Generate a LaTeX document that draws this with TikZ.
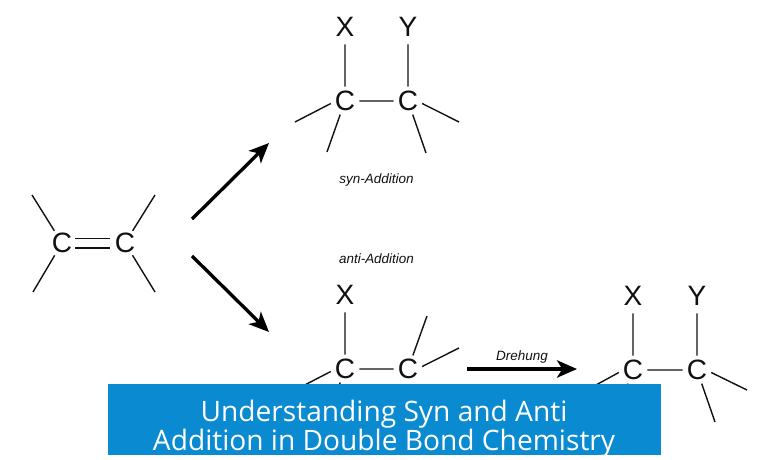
\documentclass[tikz,border=0pt]{standalone}
\usepackage{fontspec}
\setmainfont{Liberation Sans}
\newfontfamily\bannerfont{Open Sans}
\usetikzlibrary{arrows.meta}
\definecolor{bannerblue}{HTML}{0A8AD0}
\definecolor{inkc}{HTML}{111111}
\tikzset{
  x=0.75pt,y=-0.75pt,
  atomnode/.style={circle,inner sep=0pt,minimum size=28*0.75pt,text=inkc,font=\fontsize{21}{22}\selectfont},
  subnode/.style={atomnode,minimum size=34*0.75pt},
  bond/.style={draw=inkc,line width=1.05pt},
  rxnarrow/.style={draw=black,line width=2.5pt,-{Stealth[length=15pt,width=13pt,inset=4pt]}},
  tag/.style={inner sep=0pt,text=inkc,font=\fontsize{10.1}{11}\selectfont\itshape},
  banner/.style={fill=bannerblue,draw=none,inner sep=0pt,minimum width=553*0.75pt,minimum height=71*0.75pt},
  bannertext/.style={inner sep=0pt,text=white,align=center,font=\bannerfont\fontsize{21.1}{21.9}\selectfont},
}
\begin{document}
\begin{tikzpicture}
\useasboundingbox (0,0) rectangle (768,460);
\fill[white] (0,0) rectangle (768,460);

% alkene
\node[atomnode] (a1) at (62,243) {C};
\node[atomnode] (a2) at (125,243) {C};
\coordinate (a1u) at (32,195);
\coordinate (a1d) at (33,292);
\coordinate (a2u) at (155,195);
\coordinate (a2d) at (155,292);
\draw[bond] (a1)--(a1u) (a1)--(a1d) (a2)--(a2u) (a2)--(a2d);
\draw[bond] ([xshift=9.75pt,yshift=3.6pt]a1.center) -- ([xshift=-11.25pt,yshift=3.6pt]a2.center);
\draw[bond] ([xshift=9.75pt,yshift=-3.6pt]a1.center) -- ([xshift=-11.25pt,yshift=-3.6pt]a2.center);

% syn product
\node[atomnode] (s1) at (345,101) {C};
\node[atomnode] (s2) at (408,101) {C};
\node[subnode] (sx) at (345,27) {X};
\node[subnode] (sy) at (408,27) {Y};
\coordinate (s1l) at (295,122);
\coordinate (s1d) at (327,152);
\coordinate (s2r) at (459,122);
\coordinate (s2d) at (426,153);
\draw[bond] (s1)--(sx) (s2)--(sy) (s1)--(s2) (s1.190)--(s1l) (s1)--(s1d) (s2.-10)--(s2r) (s2)--(s2d);

% anti product
\node[atomnode] (t1) at (345,369) {C};
\node[atomnode] (t2) at (408,369) {C};
\node[subnode] (tx) at (345,295) {X};
\coordinate (t1l) at (295,390);
\coordinate (t1d) at (327,420);
\coordinate (t2u) at (427,316);
\coordinate (t2r) at (459,348);
\draw[bond] (t1)--(tx) (t1)--(t2) (t1.190)--(t1l) (t1)--(t1d) (t2)--(t2u) (t2.10)--(t2r);

% rotated product
\node[atomnode] (r1) at (633,370) {C};
\node[atomnode] (r2) at (697,370) {C};
\node[subnode] (rx) at (633,296) {X};
\node[subnode] (ry) at (697,296) {Y};
\coordinate (r1l) at (585,391);
\coordinate (r1d) at (615,421);
\coordinate (r2r) at (747,390);
\coordinate (r2d) at (715,422);
\draw[bond] (r1)--(rx) (r2)--(ry) (r1)--(r2) (r1.190)--(r1l) (r1)--(r1d) (r2.-10)--(r2r) (r2)--(r2d);

% arrows
\coordinate (up0) at (192,219);
\coordinate (up1) at (269,143);
\coordinate (dn0) at (192,256);
\coordinate (dn1) at (269,332);
\coordinate (ro0) at (467,369);
\coordinate (ro1) at (577,369);
\draw[rxnarrow] (up0)--(up1);
\draw[rxnarrow] (dn0)--(dn1);
\draw[rxnarrow] (ro0)--(ro1);

% labels
\node[tag] (syn) at (376.5,180.5) {syn-Addition};
\node[tag] (anti) at (376.5,259) {anti-Addition};
\node[tag] (dreh) at (522,357) {Drehung};

% banner
\node[banner] (title) at (384.5,419.5) {};
\node[bannertext] (titletext) at (384,429) {Understanding Syn and Anti\\Addition in Double Bond Chemistry};
\end{tikzpicture}
\end{document}
